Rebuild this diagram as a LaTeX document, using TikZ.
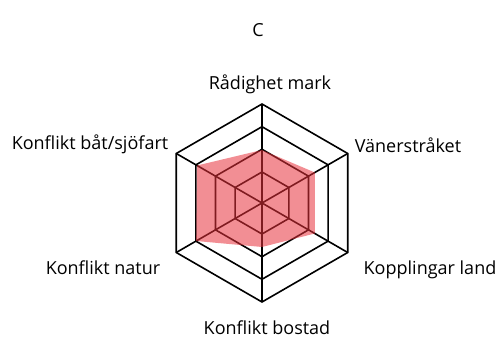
\documentclass[tikz,border=0pt]{standalone}
\usepackage{fontspec}
\setmainfont{Open Sans}
\usetikzlibrary{positioning}
\tikzset{
grid line/.style={line width=1.6pt, line join=miter}, % the hexagon rings and spokes
score area/.style={fill={rgb,255:red,232;green,50;blue,60}, fill opacity=0.55}, % the red score polygon
axis label/.style={font=\fontsize{18}{20}\selectfont, inner sep=0pt, anchor=base}, % texts round the chart
}

\begin{document}
\begin{tikzpicture}[x=1pt, y=1pt]
    \useasboundingbox (0,0) rectangle (499,-347);

    % Chart
    \begin{scope}[shift={(262,-203)}]
    \coordinate (o) at (0,0);
    \foreach \a [count=\i] in {90,30,-30,-90,-150,-210}
        \coordinate (v\i) at (\a:99);
    \foreach \r in {31,53.7,76.3,99}
        \draw[grid line] (90:\r) -- (30:\r) -- (-30:\r) -- (-90:\r) -- (-150:\r) -- (-210:\r) -- cycle;
    \foreach \i in {1,...,6}
        \draw[grid line] (o) -- (v\i);

    % Scores
    \coordinate (s1) at (90:53);
    \coordinate (s2) at (30:61);
    \coordinate (s3) at (-30:61);
    \coordinate (s4) at (-90:44);
    \coordinate (s5) at (-150:76);
    \coordinate (s6) at (-210:75);
    \fill[score area] (s1) -- (s2) -- (s3) -- (s4) -- (s5) -- (s6) -- cycle;
    \end{scope}

    % Labels
    \node[axis label] (title) at (258,-37) {C};
    \node[axis label] (mark) at (270,-90) {Rådighet mark};
    \node[axis label] (vaner) at (408,-153) {Vänerstråket};
    \node[axis label] (koppl) at (430,-275) {Kopplingar land};
    \node[axis label] (bostad) at (267,-335) {Konflikt bostad};
    \node[axis label] (natur) at (103,-275) {Konflikt natur};
    \node[axis label] (sjofart) at (90,-150) {Konflikt båt/sjöfart};
\end{tikzpicture}
\end{document}
